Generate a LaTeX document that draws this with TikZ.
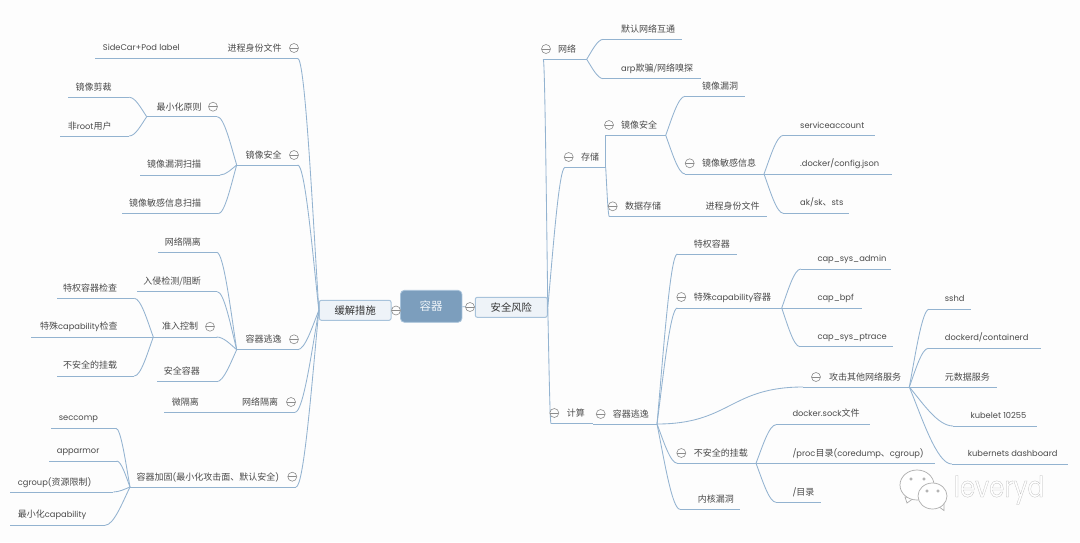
\documentclass[tikz,border=0pt]{standalone}
\usepackage{fontspec}
\setmainfont{Poppins}
\newfontfamily\cjk{Noto Sans CJK SC}
\usetikzlibrary{calc}
\definecolor{bgc}{HTML}{FDFDFD}
\definecolor{wirec}{HTML}{93B3D0}
\definecolor{txtc}{HTML}{4A4A4A}
\definecolor{foldc}{HTML}{8C8C8C}
\definecolor{rootc}{HTML}{7C9EBD}
\definecolor{boxc}{HTML}{EEF3F8}
\definecolor{boxline}{HTML}{A8C3DB}
\newcommand\zh[1]{{\cjk\fontsize{9}{10}\selectfont #1}}
\newcommand\tp[8]{%
  \coordinate (#1-in) at (#2,#4);
  \coordinate (#1-out) at (#3,#4);
  \draw[wire] (#1-in) -- (#1-out);
  \node[lbl,anchor=#5] (#1) at (#6,#7+0.9) {#8};}
\newcommand\wire[2]{\draw[wire] let \p1=(#1),\p2=(#2) in (#1) .. controls (\x1+0.3*\x2-0.3*\x1,\y1+0.4*\y2-0.4*\y1) and (\x1+0.65*\x2-0.65*\x1,\y2) .. (#2);}
\newcommand\wireS[2]{\draw[wire] let \p1=(#1),\p2=(#2) in (#1) .. controls (0.5*\x1+0.5*\x2,\y1) and (0.5*\x1+0.5*\x2,\y2) .. (#2);}
\newcommand\fd[3]{\node[foldn] (#1-fold) at (#2,#3) {};}
\tikzset{
  wire/.style={draw=wirec,line width=0.85pt},
  lbl/.style={inner sep=0pt,text=txtc,font=\fontsize{8.3}{10}\selectfont,text height=7pt,text depth=2pt},
  foldn/.style={circle,draw=foldc,fill=bgc,line width=0.6pt,minimum size=9pt,inner sep=0pt,
    path picture={\draw[foldc,line width=0.6pt] (path picture bounding box.west) -- (path picture bounding box.east);}},
  subbox/.style={draw=boxline,fill=boxc,rounded corners=2pt,line width=1pt,minimum height=20pt,inner sep=0pt,text=black!80},
  bubble/.style={draw=black!32,fill=white,line width=0.7pt}
}
\begin{document}
\begin{tikzpicture}[x=1pt,y=-1pt]
\useasboundingbox (0,0) rectangle (1080,542);
\fill[bgc] (0,0) rectangle (1080,542);
% central boxes
\node[draw=boxline,fill=rootc,rounded corners=4pt,line width=0.8pt,minimum width=61.5pt,minimum height=32pt,inner sep=0pt,text=boxc,font=\fontsize{11.5}{12}\selectfont] (root) at (431.2,306.3) {{\cjk 容器}};
\node[subbox,minimum width=72pt,font=\fontsize{10.3}{12}\selectfont] (risk) at (511.3,307.3) {{\cjk 安全风险}};
\node[subbox,minimum width=71.7pt,font=\fontsize{10.3}{12}\selectfont] (mit) at (355.2,310.3) {{\cjk 缓解措施}};
\draw[wire] (root) -- (risk);
\draw[wire] (root) -- (mit);
% ---------- right side ----------
\tp{net}{543.3}{586.7}{59.3}{west}{558}{49}{\zh{网络}}
\tp{neta}{603.3}{681.7}{39.3}{west}{621}{29}{\zh{默认网络互通}}
\tp{netb}{603.3}{700.7}{78.7}{west}{621}{68}{arp\zh{欺骗/网络嗅探}}
\tp{sto}{565}{605.7}{167.3}{west}{581}{157}{\zh{存储}}
\tp{img}{605.7}{665.7}{135.3}{west}{621}{125}{\zh{镜像安全}}
\tp{dat}{609.3}{675}{216.7}{west}{625}{206.3}{\zh{数据存储}}
\tp{dati}{675}{766.7}{216.7}{west}{705.3}{206.3}{\zh{进程身份文件}}
\tp{vul}{685}{745}{96.3}{west}{702}{86}{\zh{镜像漏洞}}
\tp{sen}{685}{764}{174}{west}{702}{163.3}{\zh{镜像敏感信息}}
\tp{sa}{783.3}{875.3}{135.3}{west}{800}{124.7}{serviceaccount}
\tp{cfg}{764}{891.7}{174}{west}{800}{163}{.docker/config.json}
\tp{ak}{783.3}{849.3}{213.3}{west}{800}{202}{ak/sk\zh{、}sts}
\tp{cal}{551}{593}{423.5}{west}{566.7}{413}{\zh{计算}}
\tp{esc}{593}{657}{424}{west}{612.7}{413.7}{\zh{容器逃逸}}
\tp{pri}{677.3}{736.7}{254}{west}{693.7}{243.7}{\zh{特权容器}}
\tp{capc}{677.3}{781.7}{308}{west}{693.7}{297}{\zh{特殊}capability\zh{容器}}
\tp{capa}{800.7}{891}{269}{west}{817.3}{258.3}{cap\_sys\_admin}
\tp{capb}{781.7}{861.7}{308}{west}{817.3}{296.7}{cap\_bpf}
\tp{capp}{800}{892.7}{346.7}{west}{817.3}{335.7}{cap\_sys\_ptrace}
\tp{atk}{803}{909.3}{387}{west}{829}{376.7}{\zh{攻击其他网络服务}}
\tp{ssh}{929}{971}{309.3}{west}{944.7}{298.3}{sshd}
\tp{dkd}{928.3}{1041}{348.3}{west}{944.7}{336.7}{dockerd/containerd}
\tp{meta}{909.3}{997}{387}{west}{944.7}{376.7}{\zh{元数据服务}}
\tp{kub}{953}{1037.3}{426}{west}{970.3}{415}{kubelet 10255}
\tp{kud}{951.7}{1068}{464}{west}{967.7}{452.7}{kubernets dashboard}
\tp{mnt}{677.3}{756}{463.3}{west}{693.7}{453}{\zh{不安全的挂载}}
\tp{ker}{680}{740}{509.3}{west}{697.7}{499}{\zh{内核漏洞}}
\tp{sock}{776}{870}{424.7}{west}{792.3}{413.5}{docker.sock\zh{文件}}
\tp{proc}{756}{935}{463.3}{west}{792.3}{452.7}{/proc\zh{目录}(coredump\zh{、}cgroup)}
\tp{rootd}{776}{821}{502.3}{west}{792.3}{491.7}{/\zh{目录}}
\wire{risk.east}{net-in}
\wire{risk.east}{sto-in}
\wire{risk.east}{cal-in}
\wire{net-out}{neta-in}
\wire{net-out}{netb-in}
\wire{sto-out}{img-in}
\wire{sto-out}{dat-in}
\wire{img-out}{vul-in}
\wire{img-out}{sen-in}
\wire{sen-out}{sa-in}
\wire{sen-out}{ak-in}
\wire{esc-out}{pri-in}
\wire{esc-out}{capc-in}
\wire{esc-out}{mnt-in}
\wire{esc-out}{ker-in}
\wireS{esc-out}{atk-in}
\wire{capc-out}{capa-in}
\wire{capc-out}{capp-in}
\wire{atk-out}{ssh-in}
\wire{atk-out}{dkd-in}
\wire{atk-out}{kub-in}
\wire{atk-out}{kud-in}
\wire{mnt-out}{sock-in}
\wire{mnt-out}{rootd-in}
% ---------- left side ----------
\tp{pid}{297.7}{210}{58.3}{east}{281.7}{48}{\zh{进程身份文件}}
\tp{sidecar}{210}{95}{58.3}{west}{102.7}{47.3}{SideCar+Pod label}
\tp{limg}{297.7}{236.7}{165}{east}{281.7}{154.7}{\zh{镜像安全}}
\tp{minp}{217.3}{146.7}{116.7}{east}{201.7}{106.7}{\zh{最小化原则}}
\tp{cut}{129.3}{68.3}{97.3}{east}{111.7}{87}{\zh{镜像剪裁}}
\tp{nonr}{129.3}{60}{136}{east}{111.7}{125.7}{\zh{非}root\zh{用户}}
\tp{vsc}{220}{140}{175}{east}{201.3}{164.3}{\zh{镜像漏洞扫描}}
\tp{ssc}{218.3}{122}{213.7}{east}{201.3}{203.3}{\zh{镜像敏感信息扫描}}
\tp{lesc}{297.7}{236.7}{349.7}{east}{281.7}{339.3}{\zh{容器逃逸}}
\tp{iso}{216.7}{157.7}{252.3}{east}{201}{242}{\zh{网络隔离}}
\tp{ids}{217.3}{136.7}{291.7}{east}{201}{281}{\zh{入侵检测/阻断}}
\tp{adm}{216.7}{153.3}{337}{east}{198.3}{326.3}{\zh{准入控制}}
\tp{safe}{216.7}{157.3}{381.7}{east}{200}{371}{\zh{安全容器}}
\tp{prc}{134.3}{56.7}{298.3}{east}{117.3}{287.7}{\zh{特权容器检查}}
\tp{cpc}{153.3}{31}{337}{east}{117.7}{326}{\zh{特殊}capability\zh{检查}}
\tp{umt}{134.3}{56.7}{376}{east}{117.3}{365.3}{\zh{不安全的挂载}}
\tp{lnet}{295}{232}{412.3}{east}{278.3}{402}{\zh{网络隔离}}
\tp{micro}{232}{164}{412.3}{west}{171.7}{402}{\zh{微隔离}}
\tp{hard}{296}{130}{487}{east}{279.3}{476.7}{\zh{容器加固}(\zh{最小化攻击面、默认安全})}
\tp{sec}{116}{51}{428.3}{west}{58.7}{417}{seccomp}
\tp{app}{116.7}{49}{461}{west}{56.7}{450}{apparmor}
\tp{cgr}{113.3}{10}{492}{west}{17.7}{481.7}{cgroup(\zh{资源限制})}
\tp{mcp}{105}{10}{525.3}{west}{17.7}{514.3}{\zh{最小化}capability}
\wire{mit.west}{pid-in}
\wire{mit.west}{limg-in}
\wire{mit.west}{lesc-in}
\wire{mit.west}{lnet-in}
\wire{mit.west}{hard-in}
\wire{limg-out}{minp-in}
\wire{limg-out}{vsc-in}
\wire{limg-out}{ssc-in}
\wire{minp-out}{cut-in}
\wire{minp-out}{nonr-in}
\wire{lesc-out}{iso-in}
\wire{lesc-out}{ids-in}
\wire{lesc-out}{adm-in}
\wire{lesc-out}{safe-in}
\wire{adm-out}{prc-in}
\wire{adm-out}{umt-in}
\wire{hard-out}{sec-in}
\wire{hard-out}{app-in}
\wire{hard-out}{cgr-in}
\wire{hard-out}{mcp-in}
% ---------- fold markers ----------
\fd{root-l}{396}{310.5}
\fd{root-r}{470}{307}
\fd{net}{546}{49}
\fd{sto}{568.7}{157}
\fd{img}{609}{125}
\fd{dat}{612.7}{206.3}
\fd{sen}{689.7}{163.3}
\fd{cal}{554.3}{413}
\fd{esc}{600.7}{414}
\fd{capc}{681.3}{297}
\fd{atk}{816}{377}
\fd{mnt}{681.3}{453}
\fd{pid}{294}{48}
\fd{limg}{294}{155}
\fd{minp}{213}{106.7}
\fd{lesc}{294}{339.3}
\fd{adm}{210}{326.7}
\fd{lnet}{291}{402}
\fd{hard}{292.3}{476.7}
% ---------- watermark ----------
\draw[bubble] (905,497) -- (907,503) -- (914,498) -- cycle;
\draw[bubble] (917,485) ellipse (17pt and 15pt);
\draw[bubble] (938,506) -- (944,510.5) -- (944,503) -- cycle;
\draw[bubble] (932.5,496) ellipse (14.5pt and 13pt);
\foreach \ex/\ey in {911/479,924/479,927/491,938/491}{\draw[black!40,line width=0.5pt] (\ex,\ey) circle (1.2pt);}
\node[inner sep=0pt,transform shape,xscale=0.85,font=\fontsize{29}{30}\selectfont,text=white] (mark) at (999,490) {\special{pdf:code q 2 Tr 0.25 w 0.72 G}leveryd\special{pdf:code Q}};
\end{tikzpicture}
\end{document}
